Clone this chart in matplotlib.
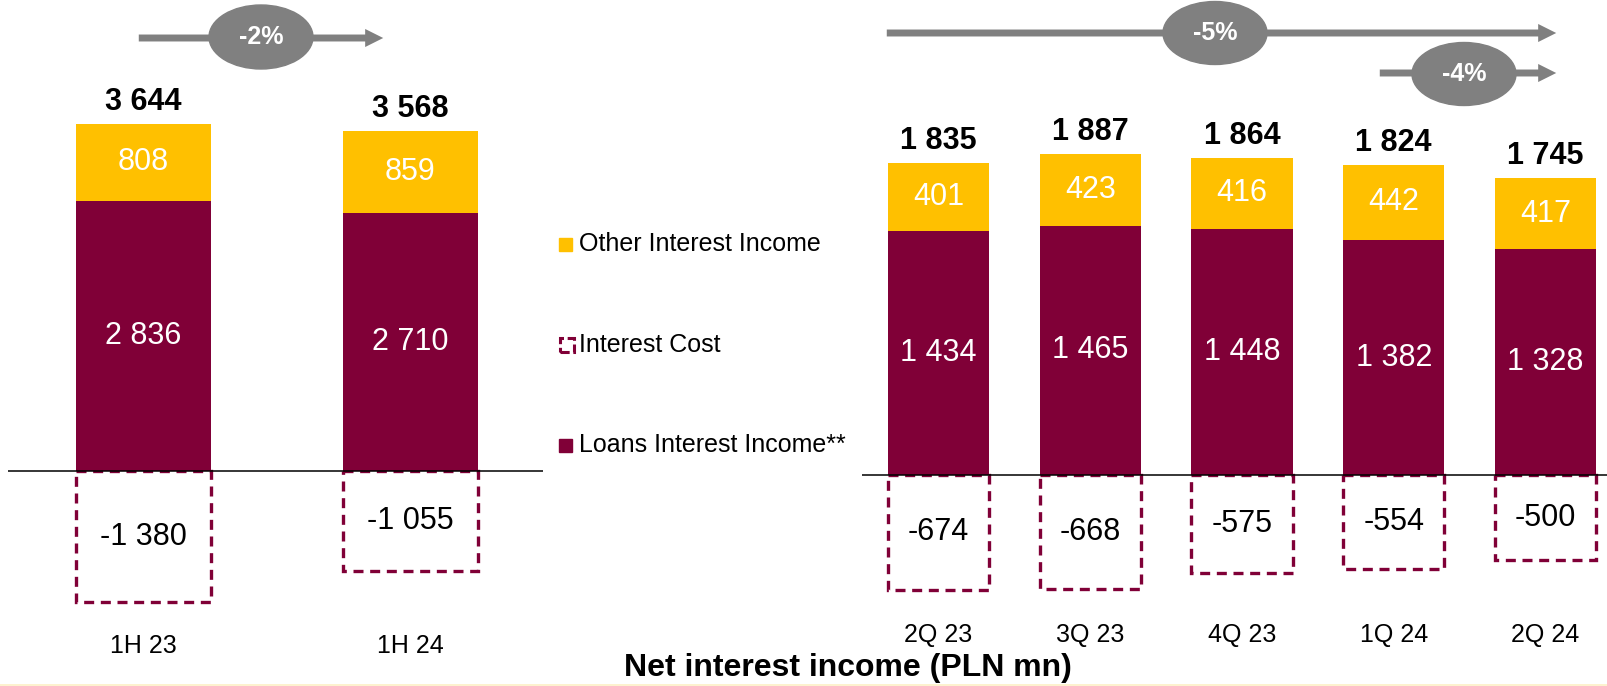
import matplotlib
matplotlib.use('Agg')
import matplotlib.pyplot as plt
from matplotlib.patches import Ellipse, FancyArrowPatch, Rectangle, ArrowStyle

plt.rcParams['font.family'] = ['Liberation Sans', 'DejaVu Sans']

# half-year view
periods_h = ['1H 23', '1H 24']
loans_h = [2836, 2710]
other_h = [808, 859]
cost_h = [-1380, -1055]
total_h = [3644, 3568]

# quarterly view
quarters = ['2Q 23', '3Q 23', '4Q 23', '1Q 24', '2Q 24']
loans_q = [1434, 1465, 1448, 1382, 1328]
other_q = [401, 423, 416, 442, 417]
cost_q = [-674, -668, -575, -554, -500]
total_q = [1835, 1887, 1864, 1824, 1745]

MAROON = '#800037'
YELLOW = '#FFC000'
GREY = '#808080'

W, H = 1608, 686
fig = plt.figure(figsize=(W / 100, H / 100), dpi=100)


def fx(px):
    return px / W


def fy(py):
    return 1 - py / H


def fmt(v):
    return f'{v:,}'.replace(',', ' ')


def draw_panel(ax, labels, loans, other, cost, total, width, label_y):
    x = range(len(labels))
    ax.bar(x, loans, width, color=MAROON, zorder=2)
    ax.bar(x, other, width, bottom=loans, color=YELLOW, zorder=2)
    ax.bar(x, cost, width, fill=False, edgecolor=MAROON, linewidth=2.4,
           linestyle=(0, (3.0, 2.0)), zorder=2)
    ax.axhline(0, color='black', linewidth=1.1, zorder=3)
    for i in x:
        ax.text(i, loans[i] / 2, fmt(loans[i]), ha='center', va='center',
                color='white', fontsize=22)
        ax.text(i, loans[i] + other[i] / 2, fmt(other[i]), ha='center',
                va='center', color='white', fontsize=22)
        ax.text(i, cost[i] / 2, fmt(cost[i]), ha='center', va='center',
                color='black', fontsize=22)
        ax.annotate(fmt(total[i]), (i, loans[i] + other[i]),
                    xytext=(0, 5), textcoords='offset points',
                    ha='center', va='bottom', fontsize=22, fontweight='bold')
        ax.text(i, fy(label_y), labels[i], transform=ax.get_xaxis_transform(),
                ha='center', va='baseline', fontsize=18)
    ax.axis('off')


# left panel (half years)
ax_l = fig.add_axes([fx(8), 0, fx(535), 1])
draw_panel(ax_l, periods_h, loans_h, other_h, cost_h, total_h, 0.506, 653)
ax_l.set_xlim(-0.507, 1.497)
ax_l.set_ylim(-215 / 0.09523, 471 / 0.09523)

# right panel (quarters)
ax_r = fig.add_axes([fx(862), 0, fx(746), 1])
draw_panel(ax_r, quarters, loans_q, other_q, cost_q, total_q, 0.666, 642)
ax_r.set_xlim(-0.504, 4.412)
ax_r.set_ylim(-211 / 0.1700, 475 / 0.1700)


# growth arrows with grey badges
def badge_arrow(x0, x1, y, cx, cy, ew, eh, text):
    style = ArrowStyle.Simple(head_length=1.3, head_width=1.3, tail_width=0.5)
    arr = FancyArrowPatch((fx(x0), fy(y)), (fx(x1), fy(y)),
                          transform=fig.transFigure, arrowstyle=style,
                          mutation_scale=10, color=GREY, linewidth=0)
    fig.add_artist(arr)
    ell = Ellipse((fx(cx), fy(cy)), ew / W, eh / H, transform=fig.transFigure,
                  color=GREY, zorder=3)
    fig.add_artist(ell)
    fig.text(fx(cx), fy(cy), text, ha='center', va='center', color='white',
             fontsize=18, fontweight='bold', zorder=4)


badge_arrow(136, 386, 38, 261, 37, 104, 64, '-2%')
badge_arrow(884, 1559, 33, 1215, 33, 104, 63, '-5%')
badge_arrow(1377, 1559, 73, 1464, 74, 104, 63, '-4%')

# legend
fig.add_artist(Rectangle((fx(559), fy(251)), 13 / W, 13 / H,
                         transform=fig.transFigure, color=YELLOW))
fig.text(fx(579), fy(244), 'Other Interest Income', va='center', fontsize=18)
fig.add_artist(Rectangle((fx(560), fy(352)), 14 / W, 14 / H,
                         transform=fig.transFigure, fill=False,
                         edgecolor=MAROON, linewidth=2.2,
                         linestyle=(0, (3, 1.2))))
fig.text(fx(579), fy(345), 'Interest Cost', va='center', fontsize=18)
fig.add_artist(Rectangle((fx(559), fy(452)), 13 / W, 13 / H,
                         transform=fig.transFigure, color=MAROON))
fig.text(fx(579), fy(445), 'Loans Interest Income**', va='center', fontsize=18)

fig.text(fx(848), fy(676), 'Net interest income (PLN mn)', ha='center',
         va='baseline', fontsize=23, fontweight='bold')

# thin footer strip
fig.add_artist(Rectangle((0, 0), 1, 2 / H, transform=fig.transFigure,
                         color='#FDF2CF', linewidth=0))

fig.savefig('out.png', dpi=100)
